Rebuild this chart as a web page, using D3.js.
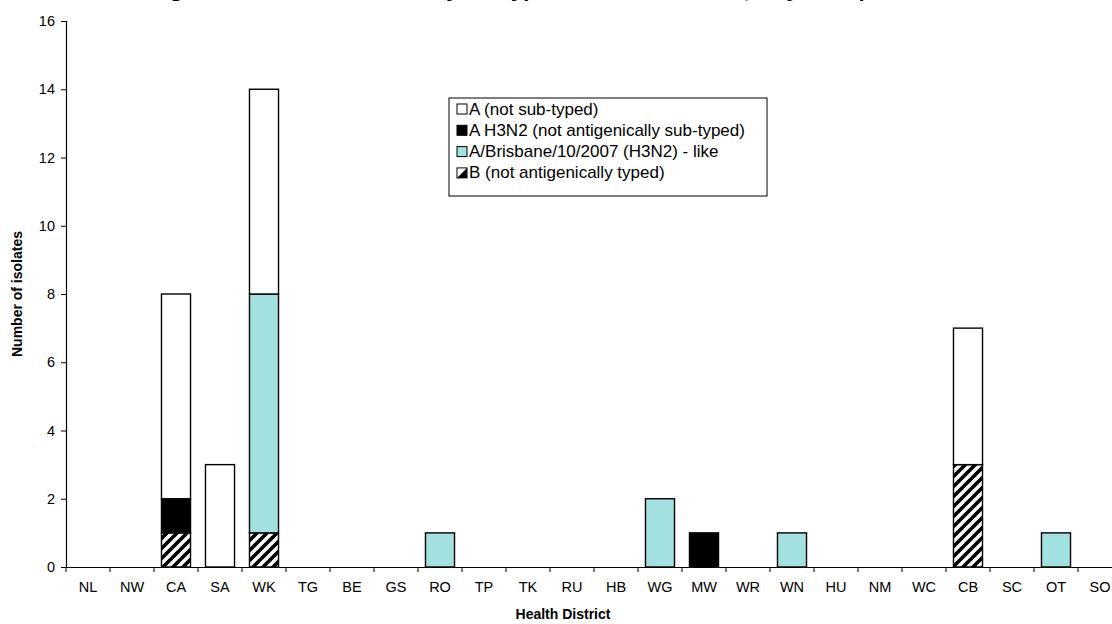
<!DOCTYPE html>
<html>
<head>
<meta charset="utf-8">
<script src="https://cdn.jsdelivr.net/npm/d3@7/dist/d3.min.js"></script>
<style>
  html, body { margin: 0; padding: 0; background: #fff; }
  svg { display: block; font-family: Arial, "Liberation Sans", sans-serif; }
</style>
</head>
<body>
<svg id="chart" width="1112" height="624"></svg>
<script>
// ---- data ----
const districts = ["NL","NW","CA","SA","WK","TG","BE","GS","RO","TP","TK","RU","HB","WG","MW","WR","WN","HU","NM","WC","CB","SC","OT","SO"];
const seriesNames = ["B (not antigenically typed)", "A H3N2 (not antigenically sub-typed)", "A/Brisbane/10/2007 (H3N2) - like", "A (not sub-typed)"];
const bNotTyped      = [0,0,1,0,1,0,0,0,0,0,0,0,0,0,0,0,0,0,0,0,3,0,0,0];
const aH3N2          = [0,0,1,0,0,0,0,0,0,0,0,0,0,0,1,0,0,0,0,0,0,0,0,0];
const aBrisbane      = [0,0,0,0,7,0,0,0,1,0,0,0,0,2,0,0,1,0,0,0,0,0,1,0];
const aNotSubtyped   = [0,0,6,3,6,0,0,0,0,0,0,0,0,0,0,0,0,0,0,0,4,0,0,0];
const yTicks = [0,2,4,6,8,10,12,14,16];
const legendOrder = ["A (not sub-typed)", "A H3N2 (not antigenically sub-typed)", "A/Brisbane/10/2007 (H3N2) - like", "B (not antigenically typed)"];
const titleText = "Figure 5: Influenza viruses by subtype and health district, May to September 2008";

// ---- setup ----
const svg = d3.select("#chart");
const fills = {
  "B (not antigenically typed)": "url(#hatch)",
  "A H3N2 (not antigenically sub-typed)": "#000000",
  "A/Brisbane/10/2007 (H3N2) - like": "#a3e0e0",
  "A (not sub-typed)": "#ffffff"
};

const defs = svg.append("defs");
const pat = defs.append("pattern")
  .attr("id", "hatch").attr("patternUnits", "userSpaceOnUse")
  .attr("width", 10).attr("height", 10);
pat.append("rect").attr("width", 10).attr("height", 10).attr("fill", "#fff");
pat.append("path")
  .attr("d", "M-2.5,2.5 L2.5,-2.5 M0,10 L10,0 M7.5,12.5 L12.5,7.5")
  .attr("stroke", "#000").attr("stroke-width", 3.6);

const x = d3.scaleBand().domain(districts).range([66, 66 + 44 * districts.length]).paddingInner(0.34).paddingOuter(0.17);
const xb = d3.scaleBand().domain(districts).range([66, 66 + 44 * districts.length]);
const y = d3.scaleLinear().domain([0, 16]).range([567, 21]);

// title (cut at top, as in reference)
svg.append("text").attr("x", 150).attr("y", -2).attr("text-anchor", "start")
  .attr("font-size", 16).attr("font-weight", "bold")
  .attr("textLength", 850).attr("lengthAdjust", "spacingAndGlyphs").text(titleText);

// stacked bars
const table = districts.map((d, i) => ({
  district: d,
  "B (not antigenically typed)": bNotTyped[i],
  "A H3N2 (not antigenically sub-typed)": aH3N2[i],
  "A/Brisbane/10/2007 (H3N2) - like": aBrisbane[i],
  "A (not sub-typed)": aNotSubtyped[i]
}));
const stack = d3.stack().keys(seriesNames)(table);

const gBars = svg.append("g");
stack.forEach(layer => {
  gBars.selectAll(null)
    .data(layer.filter(d => d[1] - d[0] > 0))
    .join("rect")
    .attr("x", d => x(d.data.district))
    .attr("width", x.bandwidth())
    .attr("y", d => y(d[1]))
    .attr("height", d => y(d[0]) - y(d[1]))
    .attr("fill", fills[layer.key])
    .attr("stroke", "#000")
    .attr("stroke-width", 1.4);
});

const tickFont = 14.5;
// y axis
const yAxis = svg.append("g").attr("transform", "translate(66,0)")
  .call(d3.axisLeft(y).tickValues(yTicks).tickSize(5).tickPadding(6));
yAxis.select(".domain").attr("stroke", "#000").attr("stroke-width", 1.2);
yAxis.selectAll(".tick line").attr("stroke", "#000");
yAxis.selectAll(".tick text").attr("font-size", tickFont).attr("fill", "#000").attr("font-family", "Arial, 'Liberation Sans', sans-serif");

// x axis: line + boundary ticks, labels centered
const xAxis = svg.append("g").attr("transform", "translate(0,567)")
  .call(d3.axisBottom(xb).tickSize(0).tickPadding(15));
xAxis.select(".domain").attr("stroke", "#000").attr("stroke-width", 1.2);
xAxis.selectAll(".tick text").attr("font-size", tickFont).attr("fill", "#000").attr("font-family", "Arial, 'Liberation Sans', sans-serif");
xAxis.selectAll(".boundary")
  .data(districts)
  .join("line")
  .attr("x1", d => xb(d)).attr("x2", d => xb(d))
  .attr("y1", 0).attr("y2", 5)
  .attr("stroke", "#000");

// axis titles
svg.append("text").attr("x", 563).attr("y", 619).attr("text-anchor", "middle")
  .attr("font-size", 14).attr("font-weight", "bold").text("Health District");
svg.append("text").attr("transform", "translate(22,294) rotate(-90)").attr("text-anchor", "middle")
  .attr("font-size", 14).attr("font-weight", "bold").text("Number of isolates");

// legend
const lg = svg.append("g").attr("transform", "translate(449,98)");
lg.append("rect").attr("width", 318).attr("height", 98).attr("fill", "#fff").attr("stroke", "#000").attr("stroke-width", 1);
legendOrder.forEach((name, i) => {
  const row = lg.append("g").attr("transform", `translate(8,${11 + i * 21.3})`);
  if (name === "B (not antigenically typed)") {
    row.append("rect").attr("x", 0).attr("y", -5).attr("width", 10).attr("height", 10).attr("fill", "#fff").attr("stroke", "#000");
    row.append("path").attr("d", "M10,-5 L10,5 L0,5 Z").attr("fill", "#000");
  } else {
    row.append("rect").attr("x", 0).attr("y", -5).attr("width", 10).attr("height", 10)
      .attr("fill", fills[name]).attr("stroke", "#000");
  }
  row.append("text").attr("x", 12).attr("y", 5.5).attr("font-size", 17).text(name);
});
</script>
</body>
</html>
